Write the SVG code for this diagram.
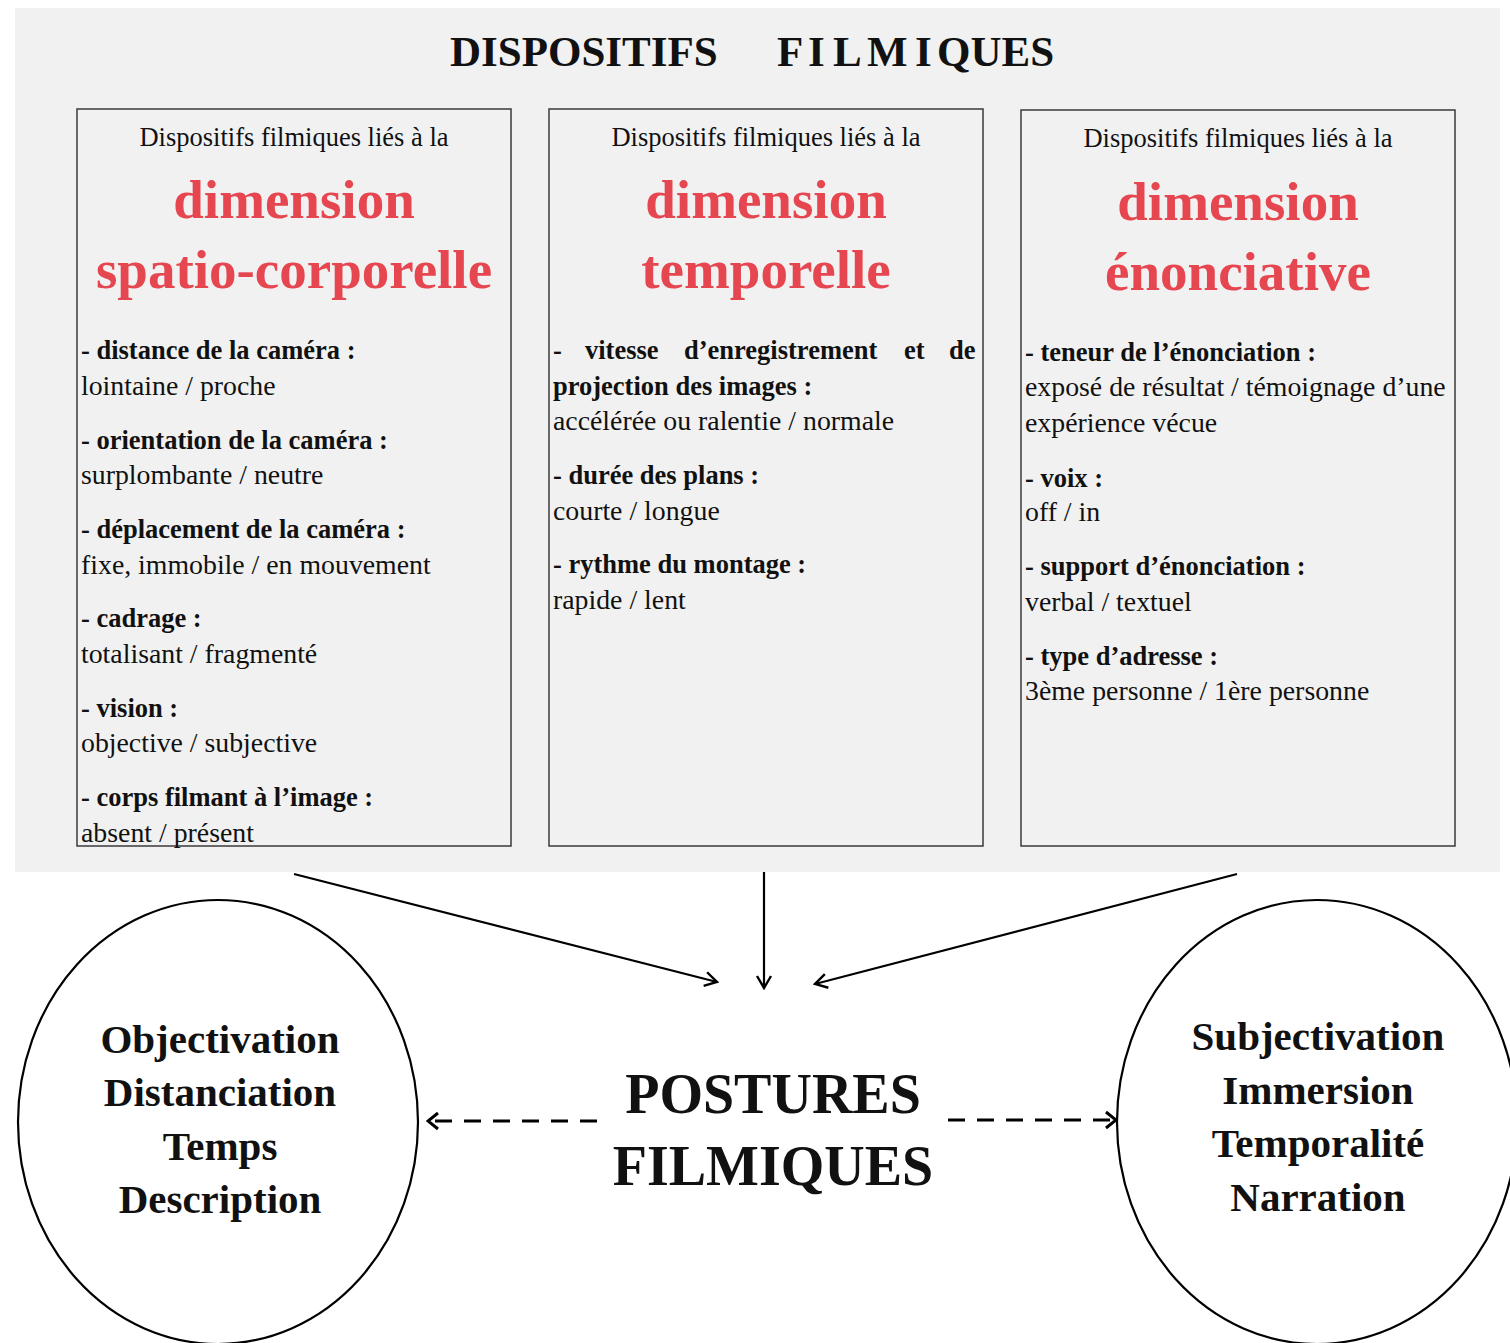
<svg xmlns="http://www.w3.org/2000/svg" width="1510" height="1343" viewBox="0 0 1510 1343">
<defs>
<style>
text{font-family:"Liberation Serif","Times New Roman",serif;fill:#111}
.title{font-size:43px;font-weight:bold}
.hd{font-size:26.5px;text-anchor:middle}
.red{font-size:55px;font-weight:bold;fill:#e6464f;text-anchor:middle}
.b{font-size:26.5px;font-weight:bold}
.r{font-size:27.8px}
.circ{font-size:41px;font-weight:bold;text-anchor:middle}
.post{font-size:56px;font-weight:bold;text-anchor:middle}
.box{fill:none;stroke:#3a3a3a;stroke-width:1.5}
.ell{fill:none;stroke:#000;stroke-width:2.2}
.conn{stroke:#000;stroke-width:2.2;fill:none}
.dash{stroke:#000;stroke-width:3;fill:none;stroke-dasharray:17 12}
</style>
<marker id="ah" viewBox="0 0 20 20" refX="18" refY="10" markerWidth="20" markerHeight="20" markerUnits="userSpaceOnUse" orient="auto">
<path d="M6,3 L18,10 L6,17" fill="none" stroke="#000" stroke-width="2.4"/>
</marker>
<marker id="ah2" viewBox="0 0 20 20" refX="18" refY="10" markerWidth="20" markerHeight="20" markerUnits="userSpaceOnUse" orient="auto">
<path d="M8,2 L18,10 L8,18" fill="none" stroke="#000" stroke-width="3"/>
</marker>
</defs>
<rect x="0" y="0" width="1510" height="1343" fill="#fff"/>
<rect x="15" y="8" width="1485" height="864" fill="#f1f1f1"/>
<g id="title">
<text class="title" x="450" y="66">DISPOSITIFS</text>
<text class="title" y="66"><tspan x="777">F</tspan><tspan x="808">I</tspan><tspan x="833">L</tspan><tspan x="867">M</tspan><tspan x="915">I</tspan><tspan x="937">QUES</tspan></text>
</g>
<g id="box-spatio">
<rect class="box" x="77" y="109" width="434" height="737"/>
<text class="hd" x="294" y="146">Dispositifs filmiques liés à la</text>
<text class="red" x="294" y="218">dimension</text>
<text class="red" x="294" y="288">spatio-corporelle</text>
<text class="b" x="81" y="359">- distance de la caméra :</text>
<text class="r" x="81" y="395">lointaine / proche</text>
<text class="b" x="81" y="449">- orientation de la caméra :</text>
<text class="r" x="81" y="484">surplombante / neutre</text>
<text class="b" x="81" y="538">- déplacement de la caméra :</text>
<text class="r" x="81" y="574">fixe, immobile / en mouvement</text>
<text class="b" x="81" y="627">- cadrage :</text>
<text class="r" x="81" y="663">totalisant / fragmenté</text>
<text class="b" x="81" y="717">- vision :</text>
<text class="r" x="81" y="752">objective / subjective</text>
<text class="b" x="81" y="806">- corps filmant à l’image :</text>
<text class="r" x="81" y="842">absent / présent</text>
</g>
<g id="box-temporelle">
<rect class="box" x="549" y="109" width="434" height="737"/>
<text class="hd" x="766" y="146">Dispositifs filmiques liés à la</text>
<text class="red" x="766" y="218">dimension</text>
<text class="red" x="766" y="288">temporelle</text>
<text class="b" y="359"><tspan x="553">-</tspan><tspan x="585">vitesse</tspan><tspan x="684">d’enregistrement</tspan><tspan x="904">et</tspan><tspan x="949">de</tspan></text>
<text class="b" x="553" y="395">projection des images :</text>
<text class="r" x="553" y="430">accélérée ou ralentie / normale</text>
<text class="b" x="553" y="484">- durée des plans :</text>
<text class="r" x="553" y="520">courte / longue</text>
<text class="b" x="553" y="573">- rythme du montage :</text>
<text class="r" x="553" y="609">rapide / lent</text>
</g>
<g id="box-enonciative">
<rect class="box" x="1021" y="110" width="434" height="736"/>
<text class="hd" x="1238" y="147">Dispositifs filmiques liés à la</text>
<text class="red" x="1238" y="220">dimension</text>
<text class="red" x="1238" y="290">énonciative</text>
<text class="b" x="1025" y="361">- teneur de l’énonciation :</text>
<text class="r" x="1025" y="396">exposé de résultat / témoignage d’une</text>
<text class="r" x="1025" y="432">expérience vécue</text>
<text class="b" x="1025" y="487">- voix :</text>
<text class="r" x="1025" y="521">off / in</text>
<text class="b" x="1025" y="575">- support d’énonciation :</text>
<text class="r" x="1025" y="611">verbal / textuel</text>
<text class="b" x="1025" y="665">- type d’adresse :</text>
<text class="r" x="1025" y="700">3ème personne / 1ère personne</text>
</g>
<g id="postures">
<text class="post" x="773" y="1113">POSTURES</text>
<text class="post" x="773" y="1185">FILMIQUES</text>
</g>
<g id="circle-left">
<ellipse class="ell" cx="218" cy="1122" rx="200" ry="222"/>
<text class="circ" x="220" y="1053">Objectivation</text>
<text class="circ" x="220" y="1106">Distanciation</text>
<text class="circ" x="220" y="1160">Temps</text>
<text class="circ" x="220" y="1213">Description</text>
</g>
<g id="circle-right">
<ellipse class="ell" cx="1317" cy="1122" rx="200" ry="222"/>
<text class="circ" x="1318" y="1050">Subjectivation</text>
<text class="circ" x="1318" y="1104">Immersion</text>
<text class="circ" x="1318" y="1157">Temporalité</text>
<text class="circ" x="1318" y="1211">Narration</text>
</g>
<g id="connectors">
<line class="conn" x1="294" y1="874" x2="717" y2="982" marker-end="url(#ah)"/>
<line class="conn" x1="764" y1="872" x2="764" y2="988" marker-end="url(#ah)"/>
<line class="conn" x1="1237" y1="874" x2="815" y2="984" marker-end="url(#ah)"/>
<line class="dash" x1="597" y1="1121" x2="428" y2="1121" marker-end="url(#ah2)"/>
<line class="dash" x1="948" y1="1120" x2="1116" y2="1120" marker-end="url(#ah2)"/>
</g>
</svg>
